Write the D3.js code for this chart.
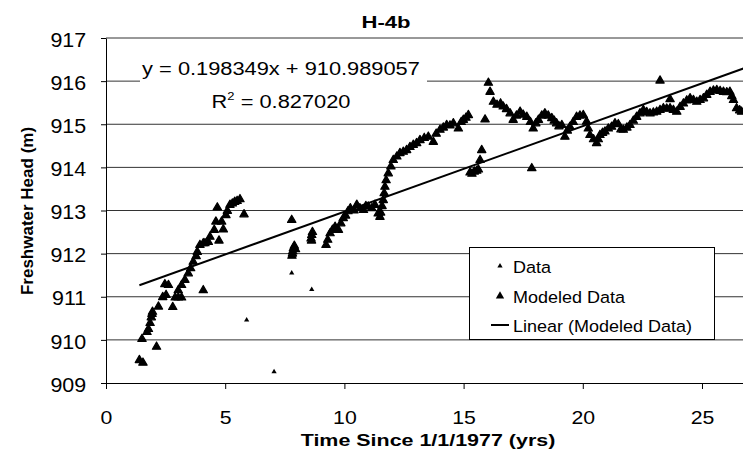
<!DOCTYPE html>
<html lang="en">

<head>
    <meta charset="UTF-8">
    <title>H-4b</title>
    <script src="https://d3js.org/d3.v7.min.js"></script>
    <style>
      body { margin: 0; background: #fff; }
      text { font-family: "Liberation Sans", Arial, sans-serif; fill: #000; }
    </style>
</head>

<body>
    <svg id="chart" width="743" height="461"></svg>
    <script>
      // values (years since 1/1/1977, head in m)
      const measured = [[5.90, 910.46], [7.05, 909.26], [7.79, 911.55], [8.63, 911.17]];

      const modeled = [
        [1.40, 909.53], [1.55, 909.47], [1.51, 910.02], [1.72, 910.18], [1.78, 910.25], [1.85, 910.39],
        [1.90, 910.52], [1.93, 910.60], [1.95, 910.65], [2.12, 909.84], [2.20, 910.77], [2.38, 910.99],
        [2.52, 911.04], [2.47, 911.29], [2.62, 911.27], [2.80, 910.76], [2.90, 910.98], [3.03, 910.98],
        [3.17, 910.98], [3.03, 911.15], [3.17, 911.27], [3.31, 911.39], [3.45, 911.54], [3.55, 911.66],
        [3.66, 911.81], [3.78, 911.94], [3.83, 912.04], [3.94, 912.20], [4.08, 912.24], [4.15, 912.24],
        [4.29, 912.27], [4.36, 912.39], [4.08, 911.15], [4.54, 912.55], [4.74, 912.30], [4.61, 912.74],
        [4.85, 912.74], [4.92, 912.56], [4.67, 913.07], [5.03, 912.89], [5.09, 912.99], [5.20, 913.13],
        [5.30, 913.16], [5.40, 913.20], [5.50, 913.22], [5.62, 913.26], [5.79, 912.91],
        [7.79, 912.78], [7.80, 911.95], [7.83, 912.05], [7.86, 912.12], [7.90, 912.18], [7.95, 912.10],
        [7.82, 912.00], [8.60, 912.35], [8.63, 912.43], [8.66, 912.50], [8.62, 912.30],
        [9.23, 912.20], [9.30, 912.32], [9.40, 912.47], [9.50, 912.55], [9.61, 912.62], [9.75, 912.55],
        [9.85, 912.70], [9.95, 912.82], [10.05, 912.88], [10.15, 912.98], [10.25, 913.05], [10.40, 913.00],
        [10.52, 913.13], [10.65, 913.05], [10.80, 913.01], [10.90, 913.10], [11.00, 913.09], [11.15, 913.05],
        [11.28, 913.13], [11.42, 912.93], [11.49, 912.85], [11.52, 912.95], [11.58, 913.10], [11.63, 913.24],
        [11.67, 913.40], [11.70, 913.55], [11.75, 913.70], [11.84, 913.86], [11.95, 914.02], [12.05, 914.17],
        [12.20, 914.25], [12.33, 914.33], [12.47, 914.36], [12.61, 914.40], [12.75, 914.47], [12.89, 914.52],
        [13.03, 914.56], [13.17, 914.63], [13.35, 914.68], [13.52, 914.71], [13.73, 914.59], [13.85, 914.78],
        [14.01, 914.87], [14.15, 914.92], [14.29, 914.98], [14.43, 914.97], [14.57, 915.02], [14.78, 914.90],
        [14.90, 915.05], [14.99, 915.10], [15.10, 915.15], [15.20, 915.21],
        [15.27, 913.88], [15.35, 913.85], [15.45, 913.90], [15.55, 913.92], [15.62, 913.95], [15.69, 914.17],
        [15.76, 914.40], [15.90, 915.11], [16.04, 915.96], [16.11, 915.75],
        [16.25, 915.52], [16.40, 915.45], [16.55, 915.48], [16.66, 915.41], [16.80, 915.35], [16.95, 915.25],
        [17.08, 915.10], [17.22, 915.20], [17.37, 915.29], [17.50, 915.22], [17.65, 915.17], [17.80, 915.05],
        [17.92, 914.90], [18.03, 915.02], [18.14, 915.10], [18.28, 915.20], [18.41, 915.25], [18.55, 915.20],
        [18.70, 915.14], [18.80, 915.08], [18.90, 915.02], [19.00, 914.95], [19.12, 914.98], [19.25, 914.71],
        [19.35, 914.85], [19.46, 914.94], [19.60, 915.05], [19.74, 915.17], [19.88, 915.20], [20.02, 915.21],
        [20.16, 915.06], [20.23, 914.90], [20.30, 914.75], [20.45, 914.65], [20.58, 914.56], [20.65, 914.65],
        [20.72, 914.75], [20.83, 914.80], [20.93, 914.83], [21.07, 914.90], [21.21, 914.94], [21.35, 915.02],
        [21.49, 915.00], [21.60, 914.88], [21.70, 914.87], [21.85, 914.92], [21.98, 914.98], [22.12, 915.08],
        [22.26, 915.17], [22.40, 915.25], [22.54, 915.33], [22.68, 915.28], [22.82, 915.25], [22.96, 915.27],
        [23.10, 915.29], [23.24, 915.33], [23.38, 915.37], [23.52, 915.36], [23.66, 915.37], [23.80, 915.33],
        [23.94, 915.29], [24.08, 915.40], [24.22, 915.48], [24.36, 915.55], [24.50, 915.60], [24.64, 915.56],
        [24.78, 915.52], [24.92, 915.56], [25.06, 915.60], [25.20, 915.68], [25.34, 915.75], [25.48, 915.78],
        [25.62, 915.79], [25.76, 915.77], [25.90, 915.75], [26.04, 915.74], [26.17, 915.75], [26.25, 915.65],
        [26.32, 915.56], [26.45, 915.37], [26.58, 915.32], [26.66, 915.29],
        [17.86, 913.98], [23.24, 916.01], [23.66, 915.58]
      ];

      const slope = 0.198349;
      const intercept = 910.989057;
      const rSquared = "0.827020";

      const xTicks = [0, 5, 10, 15, 20, 25];
      const yTicks = [909, 910, 911, 912, 913, 914, 915, 916, 917];
      const legendLabels = ["Data", "Modeled Data", "Linear (Modeled Data)"];

      const svg = d3.select("#chart");
      const plot = { left: 106, right: 743, top: 38, bottom: 383 };

      const x = d3.scaleLinear().domain([0, 26.72]).range([plot.left, plot.right]);
      const y = d3.scaleLinear().domain([909, 917]).range([plot.bottom, plot.top]);

      // horizontal gridlines
      svg.append("g").selectAll("line")
        .data(yTicks.slice(1))
        .join("line")
        .attr("x1", plot.left).attr("x2", plot.right)
        .attr("y1", d => y(d)).attr("y2", d => y(d))
        .attr("stroke", "#333").attr("stroke-width", 1);

      // equation label (white box hides the gridline behind it)
      const eqCx = 281;
      svg.append("rect")
        .attr("x", 140).attr("y", 56).attr("width", 287).attr("height", 60)
        .attr("fill", "#fff");
      svg.append("text")
        .attr("transform", `translate(${eqCx},75) scale(1.18,1)`)
        .attr("text-anchor", "middle").attr("font-size", 18.5)
        .text(`y = ${slope.toFixed(6)}x + ${intercept.toFixed(6)}`);
      const r2 = svg.append("text")
        .attr("transform", `translate(${eqCx},108) scale(1.18,1)`)
        .attr("text-anchor", "middle").attr("font-size", 18.5);
      r2.append("tspan").text("R");
      r2.append("tspan").attr("font-size", 11).attr("dy", -8).text("2");
      r2.append("tspan").attr("dy", 8).text(` = ${rSquared}`);

      // axes
      const xAxis = svg.append("g")
        .attr("transform", `translate(0,${plot.bottom})`)
        .call(d3.axisBottom(x).tickValues(xTicks).tickSize(6).tickSizeOuter(0).tickPadding(22));
      xAxis.select(".domain").attr("stroke", "#000");
      xAxis.selectAll(".tick line").attr("stroke", "#000");
      xAxis.selectAll(".tick text")
        .attr("font-size", 19).attr("font-family", null)
        .attr("transform", "scale(1.12,1)");

      const yAxis = svg.append("g")
        .attr("transform", `translate(${plot.left},0)`)
        .call(d3.axisLeft(y).tickValues(yTicks).tickSize(5).tickSizeOuter(0).tickPadding(13));
      yAxis.select(".domain").attr("stroke", "#000");
      yAxis.selectAll(".tick line").attr("stroke", "#000");
      yAxis.selectAll(".tick text")
        .attr("font-size", 19.5).attr("font-family", null)
        .attr("dy", "0.42em")
        .attr("transform", "scale(1.1,1)");

      // clip to the plot area
      svg.append("clipPath").attr("id", "clip")
        .append("rect")
        .attr("x", plot.left).attr("y", plot.top - 10)
        .attr("width", plot.right - plot.left).attr("height", plot.bottom - plot.top + 10);

      const marks = svg.append("g").attr("clip-path", "url(#clip)");

      // trend line over the modeled data range
      const xExt = d3.extent(modeled, d => d[0]);
      marks.append("line")
        .attr("x1", x(xExt[0])).attr("y1", y(slope * xExt[0] + intercept))
        .attr("x2", x(xExt[1] + 0.3)).attr("y2", y(slope * (xExt[1] + 0.3) + intercept))
        .attr("stroke", "#000").attr("stroke-width", 2);

      const bigTri = d3.symbol().type(d3.symbolTriangle).size(30);
      const smallTri = d3.symbol().type(d3.symbolTriangle).size(12);

      marks.selectAll("path.modeled")
        .data(modeled)
        .join("path")
        .attr("class", "modeled")
        .attr("d", bigTri)
        .attr("transform", d => `translate(${x(d[0])},${y(d[1])})`)
        .attr("fill", "#000").attr("stroke", "#000").attr("stroke-width", 1.2)
        .attr("stroke-linejoin", "round");

      marks.selectAll("path.measured")
        .data(measured)
        .join("path")
        .attr("class", "measured")
        .attr("d", smallTri)
        .attr("transform", d => `translate(${x(d[0])},${y(d[1])})`)
        .attr("fill", "#000");

      // title
      svg.append("text")
        .attr("transform", "translate(386,28) scale(1.3,1)")
        .attr("text-anchor", "middle").attr("font-size", 17).attr("font-weight", "bold")
        .text("H-4b");

      // axis titles
      svg.append("text")
        .attr("transform", "translate(428,446) scale(1.3,1)")
        .attr("text-anchor", "middle").attr("font-size", 16.5).attr("font-weight", "bold")
        .text("Time Since 1/1/1977 (yrs)");
      svg.append("text")
        .attr("transform", "translate(33,211) rotate(-90)")
        .attr("text-anchor", "middle").attr("font-size", 17).attr("font-weight", "bold")
        .text("Freshwater Head (m)");

      // legend
      const legend = svg.append("g");
      legend.append("rect")
        .attr("x", 469.5).attr("y", 247.5).attr("width", 245).attr("height", 92)
        .attr("fill", "#fff").attr("stroke", "#000").attr("stroke-width", 1);
      const rows = [266, 296, 325];
      legend.append("path").attr("d", smallTri).attr("transform", `translate(500,${rows[0]})`);
      legend.append("path").attr("d", bigTri).attr("transform", `translate(500,${rows[1]})`);
      legend.append("line")
        .attr("x1", 491).attr("x2", 509).attr("y1", rows[2]).attr("y2", rows[2])
        .attr("stroke", "#000").attr("stroke-width", 2);
      legend.selectAll("text.lg")
        .data(legendLabels)
        .join("text")
        .attr("class", "lg")
        .attr("transform", (d, i) => `translate(513,${rows[i] + 7}) scale(1.06,1)`)
        .attr("font-size", 17)
        .text(d => d);
    </script>
</body>

</html>
